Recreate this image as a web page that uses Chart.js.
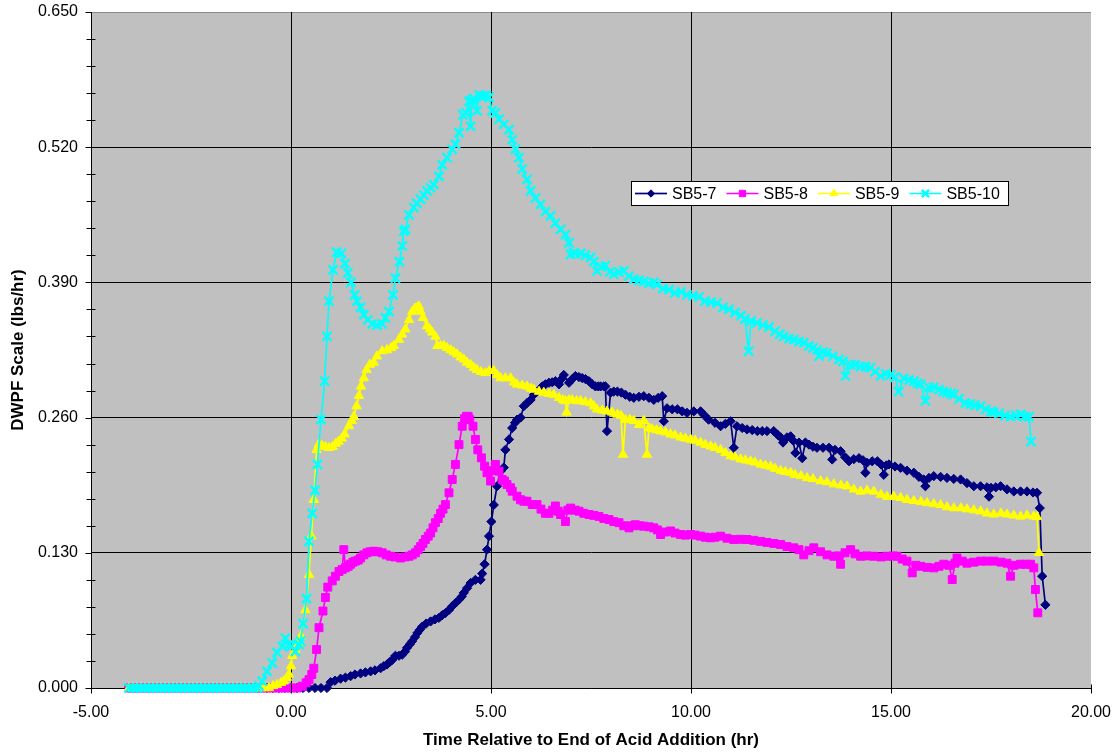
<!DOCTYPE html>
<html>
<head>
<meta charset="utf-8">
<script src="https://cdn.jsdelivr.net/npm/chart.js@4.4.1/dist/chart.umd.min.js"></script>
<style>
html,body{margin:0;padding:0;background:#fff;}
canvas{display:block;}
</style>
</head>
<body>
<canvas id="c" width="1115" height="753"></canvas>
<script>
// ---------------- DATA ----------------
const xTicks = [-5, 0, 5, 10, 15, 20];
const yTicks = [0, 0.13, 0.26, 0.39, 0.52, 0.65];
const seriesNames = ['SB5-7', 'SB5-8', 'SB5-9', 'SB5-10'];

// readings before acid addition end (all zero)
const preTimes = [-4.05,-3.95,-3.85,-3.75,-3.65,-3.55,-3.45,-3.35,-3.25,-3.15,-3.05,-2.95,-2.85,-2.75,-2.65,-2.55,-2.45,-2.35,-2.25,-2.15,-2.05,-1.95,-1.85,-1.75,-1.65,-1.55,-1.45,-1.35,-1.25,-1.15,-1.05,-0.95,-0.85];

const sb5_7 = [
[-0.75,0],[-0.6,0],[-0.45,0],[-0.3,0],[-0.15,0],[0,0],[0.15,0],[0.3,0],[0.45,0],[0.6,0],[0.75,0],[0.9,0],
[0.99,0.0056],[1.1,0.007],[1.24,0.009],[1.36,0.010],[1.49,0.0114],[1.6,0.013],[1.74,0.014],[1.86,0.015],[1.99,0.016],[2.1,0.017],[2.24,0.019],[2.32,0.021],[2.4,0.0226],[2.47,0.025],[2.53,0.027],[2.61,0.031],[2.7,0.031],[2.78,0.032],[2.85,0.035],[2.9,0.0386],[2.97,0.042],[3.03,0.045],[3.1,0.049],[3.16,0.053],[3.22,0.056],[3.28,0.059],[3.38,0.062],[3.49,0.064],[3.6,0.066],[3.7,0.0675],[3.78,0.070],[3.86,0.072],[3.95,0.075],[4.03,0.0786],[4.12,0.082],[4.2,0.085],[4.27,0.088],[4.32,0.0915],[4.4,0.096],[4.49,0.101],[4.61,0.104],[4.74,0.104],[4.78,0.110],[4.84,0.119],[4.9,0.133],[4.95,0.146],[5.01,0.160],[5.07,0.176],[5.15,0.194],[5.24,0.2085],[5.32,0.212],[5.36,0.229],[5.45,0.239],[5.53,0.250],[5.6,0.255],[5.65,0.258],[5.74,0.260],[5.82,0.271],[5.9,0.274],[5.99,0.277],[6.07,0.282],[6.15,0.285],[6.28,0.290],[6.36,0.292],[6.45,0.2935],[6.53,0.294],[6.61,0.295],[6.7,0.292],[6.76,0.297],[6.82,0.301],[6.95,0.2935],[7.03,0.297],[7.11,0.300],[7.2,0.299],[7.28,0.298],[7.36,0.297],[7.45,0.295],[7.53,0.292],[7.61,0.290],[7.68,0.290],[7.74,0.290],[7.82,0.290],[7.86,0.290],[7.9,0.247],[7.99,0.284],[8.07,0.285],[8.16,0.285],[8.26,0.284],[8.36,0.282],[8.47,0.280],[8.57,0.279],[8.7,0.280],[8.82,0.2806],[8.95,0.279],[9.07,0.277],[9.18,0.279],[9.28,0.2806],[9.32,0.2565],[9.4,0.269],[9.53,0.268],[9.66,0.268],[9.78,0.266],[9.9,0.2646],[10.07,0.266],[10.24,0.266],[10.34,0.262],[10.44,0.258],[10.6,0.255],[10.74,0.2517],[10.86,0.254],[10.99,0.2565],[11.07,0.231],[11.15,0.2517],[11.28,0.250],[11.4,0.2486],[11.53,0.248],[11.66,0.247],[11.78,0.247],[11.9,0.247],[12.07,0.247],[12.18,0.243],[12.24,0.241],[12.3,0.236],[12.4,0.241],[12.49,0.242],[12.55,0.238],[12.61,0.226],[12.7,0.236],[12.78,0.221],[12.86,0.236],[12.95,0.234],[13.05,0.232],[13.15,0.231],[13.3,0.231],[13.45,0.231],[13.53,0.2197],[13.6,0.229],[13.74,0.2277],[13.85,0.222],[13.95,0.218],[14.07,0.220],[14.2,0.221],[14.3,0.219],[14.36,0.207],[14.4,0.2166],[14.53,0.218],[14.66,0.218],[14.75,0.215],[14.82,0.205],[14.88,0.214],[14.95,0.215],[15.1,0.213],[15.24,0.2117],[15.4,0.209],[15.57,0.207],[15.7,0.203],[15.82,0.2005],[15.86,0.194],[15.95,0.202],[16.07,0.2037],[16.24,0.203],[16.4,0.202],[16.57,0.201],[16.74,0.2005],[16.9,0.197],[17.07,0.194],[17.24,0.194],[17.4,0.193],[17.45,0.184],[17.5,0.1925],[17.62,0.193],[17.74,0.194],[17.9,0.191],[18.07,0.189],[18.24,0.189],[18.4,0.189],[18.55,0.188],[18.65,0.1877],[18.72,0.173],[18.78,0.1075],[18.86,0.080]
];

const sb5_8 = [
[-0.75,0],[-0.6,0],[-0.45,0],[-0.3,0],[-0.15,0],[0,0],[0.15,0],
[0.28,0.0017],[0.38,0.005],[0.45,0.008],[0.52,0.013],[0.57,0.019],[0.64,0.037],[0.7,0.058],[0.8,0.074],[0.86,0.087],[0.92,0.097],[1.03,0.103],[1.11,0.1075],[1.2,0.112],[1.28,0.114],[1.32,0.133],[1.36,0.1156],[1.43,0.117],[1.49,0.119],[1.55,0.121],[1.61,0.122],[1.68,0.123],[1.74,0.125],[1.82,0.128],[1.9,0.130],[1.98,0.131],[2.07,0.1315],[2.17,0.131],[2.28,0.130],[2.38,0.128],[2.49,0.1267],[2.6,0.126],[2.74,0.125],[2.85,0.126],[2.95,0.1267],[3.03,0.128],[3.11,0.130],[3.18,0.133],[3.24,0.136],[3.3,0.139],[3.36,0.1428],[3.43,0.146],[3.49,0.149],[3.55,0.154],[3.61,0.159],[3.68,0.163],[3.74,0.168],[3.8,0.172],[3.86,0.1764],[3.95,0.1877],[4.03,0.2005],[4.11,0.215],[4.2,0.234],[4.28,0.2517],[4.34,0.259],[4.39,0.2613],[4.43,0.261],[4.47,0.258],[4.55,0.2517],[4.61,0.239],[4.67,0.229],[4.76,0.2213],[4.84,0.2133],[4.9,0.207],[4.99,0.199],[5.05,0.209],[5.11,0.215],[5.2,0.2085],[5.28,0.2005],[5.34,0.199],[5.4,0.1957],[5.49,0.1925],[5.53,0.1892],[5.65,0.1844],[5.74,0.181],[5.82,0.1796],[5.9,0.1796],[6.03,0.1764],[6.15,0.1764],[6.25,0.172],[6.36,0.168],[6.45,0.168],[6.54,0.171],[6.61,0.175],[6.68,0.170],[6.74,0.1668],[6.86,0.160],[6.92,0.171],[6.99,0.173],[7.1,0.171],[7.2,0.170],[7.32,0.168],[7.45,0.1668],[7.57,0.166],[7.7,0.165],[7.82,0.163],[7.95,0.162],[8.07,0.160],[8.2,0.159],[8.32,0.156],[8.45,0.154],[8.53,0.156],[8.61,0.157],[8.72,0.156],[8.82,0.1556],[8.95,0.155],[9.07,0.154],[9.16,0.152],[9.24,0.1476],[9.36,0.150],[9.49,0.151],[9.6,0.149],[9.74,0.1476],[9.86,0.147],[9.99,0.1476],[10.1,0.147],[10.24,0.146],[10.36,0.145],[10.49,0.1444],[10.6,0.145],[10.74,0.146],[10.9,0.144],[11.07,0.1428],[11.24,0.143],[11.4,0.1428],[11.57,0.142],[11.74,0.141],[11.9,0.140],[12.07,0.139],[12.24,0.138],[12.4,0.136],[12.57,0.1348],[12.7,0.133],[12.82,0.128],[12.95,0.132],[13.07,0.1348],[13.24,0.131],[13.4,0.128],[13.57,0.1267],[13.68,0.127],[13.74,0.119],[13.85,0.130],[13.99,0.133],[14.1,0.129],[14.24,0.1267],[14.4,0.127],[14.57,0.1267],[14.75,0.126],[14.9,0.1267],[15.05,0.127],[15.15,0.1267],[15.28,0.124],[15.4,0.122],[15.53,0.1107],[15.62,0.118],[15.74,0.117],[15.9,0.116],[16.07,0.1155],[16.2,0.117],[16.32,0.119],[16.45,0.118],[16.53,0.1043],[16.6,0.120],[16.65,0.125],[16.78,0.122],[16.9,0.120],[17.07,0.121],[17.24,0.122],[17.4,0.122],[17.57,0.122],[17.75,0.121],[17.9,0.120],[17.99,0.1075],[18.07,0.118],[18.24,0.119],[18.37,0.119],[18.49,0.119],[18.57,0.1155],[18.61,0.0947],[18.67,0.0723]
];

const sb5_9 = [
[-0.75,0],[-0.65,0],[-0.55,0],[-0.45,0.002],[-0.35,0.003],[-0.25,0.005],[-0.18,0.0065],[-0.1,0.010],[-0.05,0.013],[0.0,0.021],[0.03,0.031],[0.11,0.037],[0.18,0.043],[0.25,0.050],[0.36,0.075],[0.45,0.109],[0.51,0.146],[0.57,0.181],[0.64,0.229],[0.69,0.234],[0.77,0.233],[0.86,0.232],[0.95,0.231],[1.04,0.232],[1.12,0.235],[1.19,0.237],[1.27,0.240],[1.34,0.244],[1.45,0.252],[1.52,0.257],[1.57,0.261],[1.64,0.271],[1.7,0.281],[1.75,0.290],[1.82,0.298],[1.89,0.306],[1.97,0.311],[2.07,0.313],[2.15,0.319],[2.28,0.324],[2.4,0.325],[2.5,0.327],[2.57,0.329],[2.7,0.335],[2.78,0.340],[2.86,0.345],[2.95,0.354],[3.03,0.362],[3.1,0.365],[3.16,0.366],[3.2,0.367],[3.24,0.362],[3.3,0.356],[3.4,0.348],[3.47,0.345],[3.53,0.342],[3.61,0.338],[3.66,0.329],[3.74,0.329],[3.82,0.329],[3.9,0.327],[3.99,0.325],[4.07,0.323],[4.15,0.321],[4.24,0.318],[4.32,0.316],[4.4,0.313],[4.49,0.311],[4.57,0.308],[4.65,0.306],[4.75,0.304],[4.86,0.303],[4.96,0.305],[5.07,0.305],[5.15,0.301],[5.24,0.298],[5.36,0.298],[5.49,0.298],[5.57,0.294],[5.65,0.292],[5.78,0.291],[5.9,0.290],[6.0,0.288],[6.07,0.287],[6.2,0.285],[6.32,0.284],[6.45,0.283],[6.57,0.282],[6.7,0.279],[6.8,0.277],[6.86,0.276],[6.89,0.265],[6.95,0.277],[7.03,0.277],[7.14,0.276],[7.24,0.276],[7.36,0.275],[7.49,0.274],[7.57,0.271],[7.65,0.268],[7.78,0.267],[7.9,0.266],[8.03,0.265],[8.16,0.263],[8.25,0.262],[8.3,0.2245],[8.36,0.258],[8.47,0.258],[8.57,0.257],[8.7,0.253],[8.82,0.257],[8.9,0.2245],[8.95,0.250],[9.03,0.249],[9.14,0.248],[9.24,0.247],[9.36,0.246],[9.49,0.244],[9.6,0.243],[9.74,0.241],[9.86,0.240],[9.99,0.239],[10.1,0.238],[10.24,0.236],[10.36,0.234],[10.49,0.2325],[10.6,0.231],[10.74,0.229],[10.86,0.226],[10.99,0.223],[11.1,0.222],[11.24,0.220],[11.36,0.219],[11.49,0.218],[11.6,0.217],[11.74,0.215],[11.86,0.214],[11.99,0.213],[12.1,0.211],[12.24,0.209],[12.36,0.208],[12.49,0.207],[12.6,0.205],[12.75,0.204],[12.9,0.202],[13.05,0.201],[13.24,0.199],[13.4,0.198],[13.57,0.196],[13.75,0.195],[13.9,0.194],[14.07,0.191],[14.24,0.189],[14.4,0.190],[14.57,0.189],[14.75,0.186],[14.9,0.184],[15.07,0.184],[15.24,0.183],[15.4,0.181],[15.57,0.180],[15.75,0.179],[15.9,0.178],[16.07,0.177],[16.24,0.176],[16.4,0.174],[16.57,0.173],[16.75,0.173],[16.9,0.172],[17.07,0.171],[17.24,0.170],[17.4,0.168],[17.57,0.167],[17.75,0.168],[17.9,0.167],[18.07,0.166],[18.24,0.165],[18.4,0.166],[18.57,0.165],[18.65,0.1645],[18.7,0.130]
];

const sb5_10 = [
[-0.8,0.002],[-0.72,0.0065],[-0.6,0.016],[-0.47,0.024],[-0.35,0.034],[-0.22,0.040],[-0.14,0.048],[-0.05,0.042],[0.0,0.040],[0.11,0.035],[0.2,0.042],[0.24,0.045],[0.3,0.062],[0.39,0.086],[0.45,0.141],[0.53,0.168],[0.6,0.190],[0.66,0.215],[0.75,0.258],[0.84,0.295],[0.9,0.338],[0.95,0.372],[1.05,0.402],[1.14,0.419],[1.26,0.418],[1.35,0.408],[1.42,0.399],[1.5,0.390],[1.59,0.378],[1.65,0.372],[1.74,0.366],[1.82,0.359],[1.92,0.354],[2.03,0.350],[2.15,0.349],[2.28,0.350],[2.36,0.356],[2.45,0.362],[2.55,0.378],[2.61,0.394],[2.71,0.410],[2.78,0.425],[2.82,0.439],[2.86,0.441],[2.95,0.455],[3.07,0.462],[3.15,0.466],[3.24,0.470],[3.32,0.474],[3.4,0.478],[3.49,0.481],[3.57,0.484],[3.7,0.492],[3.78,0.503],[3.9,0.510],[4.03,0.518],[4.11,0.523],[4.2,0.534],[4.3,0.551],[4.37,0.553],[4.45,0.564],[4.49,0.540],[4.52,0.565],[4.57,0.567],[4.65,0.555],[4.7,0.570],[4.76,0.569],[4.82,0.569],[4.88,0.570],[4.95,0.568],[5.03,0.555],[5.11,0.553],[5.2,0.547],[5.32,0.542],[5.45,0.537],[5.53,0.527],[5.61,0.518],[5.7,0.510],[5.78,0.499],[5.9,0.489],[5.99,0.478],[6.11,0.471],[6.24,0.465],[6.36,0.458],[6.49,0.454],[6.61,0.447],[6.74,0.441],[6.86,0.436],[6.95,0.428],[6.99,0.417],[7.1,0.418],[7.24,0.418],[7.36,0.416],[7.49,0.414],[7.57,0.410],[7.65,0.401],[7.76,0.405],[7.86,0.406],[7.97,0.400],[8.07,0.398],[8.2,0.400],[8.32,0.401],[8.45,0.396],[8.57,0.393],[8.7,0.392],[8.82,0.391],[8.95,0.389],[9.07,0.390],[9.15,0.388],[9.3,0.384],[9.45,0.383],[9.6,0.380],[9.75,0.381],[9.9,0.378],[10.05,0.377],[10.2,0.376],[10.35,0.372],[10.5,0.371],[10.65,0.370],[10.8,0.366],[10.95,0.364],[11.1,0.361],[11.25,0.358],[11.35,0.355],[11.44,0.324],[11.5,0.353],[11.65,0.351],[11.8,0.349],[11.95,0.347],[12.1,0.343],[12.22,0.340],[12.32,0.338],[12.45,0.336],[12.57,0.335],[12.7,0.333],[12.82,0.332],[12.95,0.329],[13.05,0.327],[13.15,0.325],[13.2,0.319],[13.3,0.323],[13.4,0.322],[13.55,0.319],[13.7,0.316],[13.8,0.314],[13.86,0.300],[13.99,0.311],[14.1,0.311],[14.24,0.309],[14.36,0.309],[14.49,0.308],[14.6,0.304],[14.74,0.300],[14.87,0.302],[14.99,0.301],[15.1,0.299],[15.19,0.285],[15.32,0.298],[15.45,0.296],[15.57,0.295],[15.66,0.293],[15.74,0.292],[15.86,0.276],[15.95,0.289],[16.07,0.289],[16.2,0.287],[16.3,0.285],[16.4,0.284],[16.5,0.283],[16.57,0.282],[16.7,0.278],[16.86,0.274],[16.98,0.273],[17.1,0.272],[17.24,0.271],[17.37,0.268],[17.5,0.266],[17.57,0.265],[17.7,0.264],[17.85,0.262],[17.99,0.261],[18.12,0.262],[18.24,0.263],[18.35,0.261],[18.45,0.261],[18.5,0.237]
];

// ---------------- STYLE ----------------
const FONT = '"Liberation Sans", Arial, sans-serif';
const styles = [
  {color:'#000080', point:'rectRot', r:4.6, bw:1},
  {color:'#FF00FF', point:'rect', r:5.6, bw:1},
  {color:'#FFFF00', point:'triangle', r:5.4, bw:1},
  {color:'#00FFFF', point:'crossRot', r:6.4, bw:2.4}
];
const seriesData = [sb5_7, sb5_8, sb5_9, sb5_10];

const datasets = seriesData.map((arr, i) => ({
  label: seriesNames[i],
  data: preTimes.map(t => ({x: t, y: 0})).concat(arr.map(p => ({x: p[0], y: p[1]}))),
  showLine: true,
  clip: false,
  borderColor: styles[i].color,
  backgroundColor: styles[i].color,
  borderWidth: 1.7,
  pointStyle: styles[i].point,
  pointRadius: styles[i].r,
  pointBorderWidth: styles[i].bw,
  pointBorderColor: styles[i].color,
  pointBackgroundColor: styles[i].color,
  pointHoverRadius: styles[i].r,
  order: 4 - i,
  tension: 0
}));

function markerPath(ctx, style, x, y, r) {
  ctx.beginPath();
  if (style === 'rectRot') {
    ctx.moveTo(x - r, y); ctx.lineTo(x, y - r); ctx.lineTo(x + r, y); ctx.lineTo(x, y + r); ctx.closePath();
    ctx.fill(); ctx.stroke();
  } else if (style === 'rect') {
    const s = r * Math.SQRT1_2;
    ctx.rect(x - s, y - s, 2 * s, 2 * s); ctx.fill(); ctx.stroke();
  } else if (style === 'triangle') {
    ctx.moveTo(x, y - r); ctx.lineTo(x + r * 0.866, y + r * 0.5); ctx.lineTo(x - r * 0.866, y + r * 0.5); ctx.closePath();
    ctx.fill(); ctx.stroke();
  } else {
    const d = r * Math.SQRT1_2;
    ctx.moveTo(x - d, y - d); ctx.lineTo(x + d, y + d);
    ctx.moveTo(x + d, y - d); ctx.lineTo(x - d, y + d);
    ctx.stroke();
  }
}

const bgPlugin = {
  id: 'plotBg',
  beforeDraw(chart) {
    const {ctx, chartArea: a} = chart;
    ctx.save();
    ctx.fillStyle = '#C0C0C0';
    ctx.fillRect(a.left, a.top, a.right - a.left, a.bottom - a.top);
    ctx.strokeStyle = '#8a8a8a';
    ctx.lineWidth = 1;
    ctx.beginPath();
    ctx.moveTo(a.left, a.top + 0.5); ctx.lineTo(a.right, a.top + 0.5);
    ctx.stroke();
    ctx.restore();
  }
};

const tickPlugin = {
  id: 'axisTicks',
  afterDraw(chart) {
    const {ctx, chartArea: a, scales: {x, y}} = chart;
    ctx.save();
    ctx.strokeStyle = '#000';
    ctx.lineWidth = 1;
    ctx.beginPath();
    const L = Math.round(a.left) + 0.5;
    yTicks.forEach(v => {
      const py = Math.round(y.getPixelForValue(v)) + 0.5;
      ctx.moveTo(L - 6, py); ctx.lineTo(L, py);
    });
    for (let i = 0; i < yTicks.length - 1; i++) {
      const step = (yTicks[i + 1] - yTicks[i]) / 5;
      for (let k = 1; k < 5; k++) {
        const py = Math.round(y.getPixelForValue(yTicks[i] + k * step)) + 0.5;
        ctx.moveTo(L - 5, py); ctx.lineTo(L + 4, py);
      }
    }
    const B = Math.round(a.bottom) + 0.5;
    xTicks.forEach(v => {
      const px = Math.round(x.getPixelForValue(v)) + 0.5;
      ctx.moveTo(px, B - 4); ctx.lineTo(px, B + 5);
    });
    ctx.stroke();
    ctx.restore();
  }
};

const legendPlugin = {
  id: 'boxLegend',
  afterDraw(chart) {
    const ctx = chart.ctx;
    const bx = 631, by = 181, bw = 377, bh = 24;
    ctx.save();
    ctx.fillStyle = '#fff';
    ctx.fillRect(bx, by, bw, bh);
    ctx.strokeStyle = '#000';
    ctx.lineWidth = 1;
    ctx.strokeRect(bx + 0.5, by + 0.5, bw, bh);
    ctx.font = '16px ' + FONT;
    ctx.textBaseline = 'middle';
    const cy = by + bh / 2 + 0.5;
    let cx = bx + 4;
    seriesNames.forEach((name, i) => {
      const st = styles[i];
      ctx.strokeStyle = st.color;
      ctx.fillStyle = st.color;
      ctx.lineWidth = 1.7;
      ctx.beginPath();
      ctx.moveTo(cx, cy); ctx.lineTo(cx + 32, cy); ctx.stroke();
      ctx.lineWidth = st.bw;
      markerPath(ctx, st.point, cx + 16, cy, st.r * 0.8);
      ctx.fillStyle = '#000';
      ctx.fillText(name, cx + 37, cy + 1);
      cx += 37 + ctx.measureText(name).width + 10;
    });
    ctx.restore();
  }
};

const gridColorX = c => (c.tick && c.tick.value === 20) ? 'rgba(0,0,0,0)' : '#000';
const gridColorY = c => (c.tick && Math.abs(c.tick.value - 0.65) < 1e-6) ? 'rgba(0,0,0,0)' : '#000';

new Chart(document.getElementById('c'), {
  type: 'scatter',
  data: {datasets},
  options: {
    responsive: false,
    animation: false,
    devicePixelRatio: 1,
    layout: {padding: {left: 0, top: 12, right: 24, bottom: 0}},
    plugins: {legend: {display: false}, tooltip: {enabled: false}},
    scales: {
      x: {
        type: 'linear',
        min: -5, max: 20,
        afterBuildTicks: s => { s.ticks = xTicks.map(v => ({value: v})); },
        afterFit: s => { s.height = 65; s.paddingLeft = 0; s.paddingRight = 0; },
        ticks: {
          color: '#000', font: {family: FONT, size: 16}, padding: 15,
          maxRotation: 0, autoSkip: false,
          callback: v => Number(v).toFixed(2)
        },
        grid: {color: gridColorX, lineWidth: 1, drawTicks: false},
        border: {display: true, color: '#000', width: 1},
        title: {display: true, text: 'Time Relative to End of Acid Addition (hr)', color: '#000',
                font: {family: FONT, size: 17, weight: 'bold'}, padding: {top: 4, bottom: 2}}
      },
      y: {
        type: 'linear',
        min: 0, max: 0.65,
        afterBuildTicks: s => { s.ticks = yTicks.map(v => ({value: v})); },
        afterFit: s => { s.width = 91; s.paddingTop = 0; s.paddingBottom = 0; },
        ticks: {
          color: '#000', font: {family: FONT, size: 16}, padding: 13,
          autoSkip: false,
          callback: v => Number(v).toFixed(3)
        },
        grid: {color: gridColorY, lineWidth: 1, drawTicks: false},
        border: {display: true, color: '#000', width: 1},
        title: {display: true, text: 'DWPF Scale (lbs/hr)', color: '#000',
                font: {family: FONT, size: 17, weight: 'bold'}, padding: {top: 8, bottom: 4}}
      }
    }
  },
  plugins: [bgPlugin, tickPlugin, legendPlugin]
});
</script>
</body>
</html>
